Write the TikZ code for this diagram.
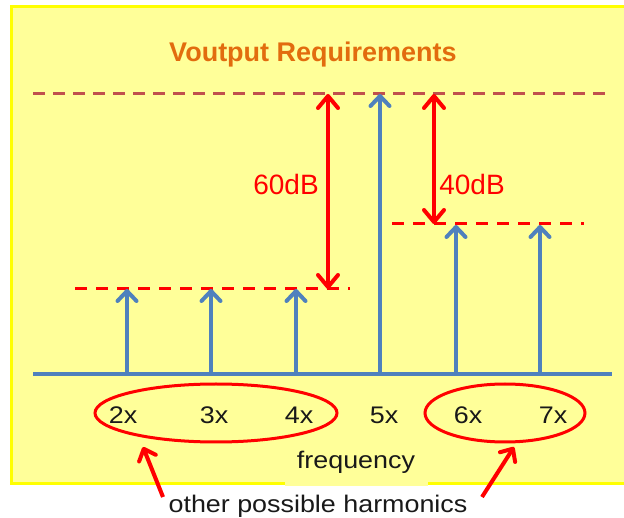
\documentclass[tikz,border=0pt]{standalone}
\usepackage{fontspec}
\setmainfont{Liberation Sans}
\newfontfamily\widefont[FakeStretch=1.12]{Liberation Sans}
\usetikzlibrary{arrows.meta,shapes.geometric}
\definecolor{bgY}{RGB}{255,255,153}
\definecolor{edgeY}{RGB}{255,255,0}
\definecolor{stemB}{RGB}{79,129,189}
\definecolor{topR}{RGB}{192,80,77}
\definecolor{titleO}{RGB}{226,108,14}
\definecolor{txtK}{RGB}{25,25,25}
\begin{document}
\begin{tikzpicture}[x=1pt,y=-1pt,
  stem/.style={stemB, line width=4pt, -{Straight Barb[round,length=10pt,width=19pt,line width=4pt]}},
  dim/.style={red, line width=4pt, {Straight Barb[round,length=12pt,width=20pt,line width=4pt]}-{Straight Barb[round,length=12pt,width=20pt,line width=4pt]}},
  pointer/.style={red, line width=4pt, -{Straight Barb[round,length=10pt,width=18pt,line width=4pt]}},
  topdash/.style={topR, line width=3pt, dash pattern=on 12pt off 8pt},
  reddash/.style={red, line width=3pt, dash pattern=on 12pt off 9pt},
  lbl/.style={text=txtK, inner sep=0pt, font=\widefont\fontsize{24}{26}\selectfont},
  dblbl/.style={text=red, inner sep=0pt, font=\fontsize{28}{32}\selectfont},
  ring/.style={draw=red, line width=3pt, ellipse, inner sep=0pt}
]
\useasboundingbox (0,0) rectangle (624,518);
\fill[white] (0,0) rectangle (624,518);
% background panel
\fill[bgY] (11,7) rectangle (624,483);
\draw[edgeY, line width=3pt] (624,7) -- (11,7) -- (11,483) -- (624,483);
\fill[bgY] (285,478) rectangle (428,486);

% title
\node[text=titleO, font=\bfseries\fontsize{27}{30}\selectfont] (title) at (313,55) {Voutput Requirements};

% reference levels
\coordinate (topL) at (33,94);  \coordinate (topR) at (612,94);
\coordinate (lowL) at (75,289); \coordinate (lowR) at (350,289);
\coordinate (midL) at (392,224); \coordinate (midR) at (584,224);
\draw[topdash] (topL) -- (topR);
\draw[reddash] (lowL) -- (lowR);
\draw[reddash] (midL) -- (midR);

% axis
\coordinate (axL) at (33,374); \coordinate (axR) at (612,374);
\draw[stemB, line width=4.5pt] (axL) -- (axR);

% harmonics stems
\foreach \n/\x/\t in {2/127/289, 3/211/289, 4/296/289, 5/380/94, 6/456/225, 7/540/225}{
  \coordinate (b\n) at (\x,374);
  \coordinate (h\n) at (\x,\t);
  \draw[stem] (b\n) -- (h\n);
}

% dimension arrows
\coordinate (d60a) at (328,94);  \coordinate (d60b) at (328,289);
\coordinate (d40a) at (434,94);  \coordinate (d40b) at (434,224);
\draw[dim] (d60a) -- (d60b);
\draw[dim] (d40a) -- (d40b);
\node[dblbl] (l60) at (286,184) {60dB};
\node[dblbl] (l40) at (472,184) {40dB};

% frequency labels
\node[lbl] (x2) at (123,415) {2x};
\node[lbl] (x3) at (214,415) {3x};
\node[lbl] (x4) at (299,415) {4x};
\node[lbl] (x5) at (384,415) {5x};
\node[lbl] (x6) at (468,415) {6x};
\node[lbl] (x7) at (553,415) {7x};

% ellipses
\node[ring, minimum width=242pt, minimum height=58pt] (e1) at (216,413) {};
\node[ring, minimum width=160pt, minimum height=58pt] (e2) at (505,413) {};

% axis title
\node[lbl, anchor=base] (freq) at (356,468) {frequency};

% harmonics note
\node[lbl, anchor=base] (harm) at (318,512) {other possible harmonics};
\coordinate (p1s) at (163,497); \coordinate (p1e) at (143,447);
\coordinate (p2s) at (482,497); \coordinate (p2e) at (514,447);
\draw[pointer] (p1s) -- (p1e);
\draw[pointer] (p2s) -- (p2e);
\end{tikzpicture}
\end{document}
